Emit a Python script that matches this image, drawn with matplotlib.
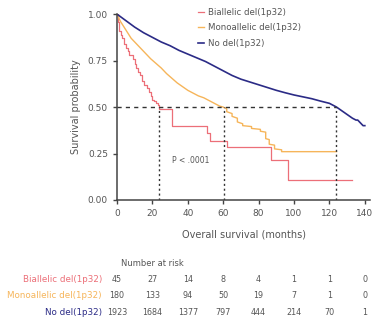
import matplotlib.pyplot as plt

# Kaplan-Meier curves
red_t = [0, 0.5, 1, 2, 3, 4, 5, 6, 7, 9, 10, 11, 12, 13, 14, 15, 17, 18, 19, 20,
         21, 22, 23, 24, 31, 51, 52.5, 62, 87, 96.5, 133]
red_s = [1.0, 0.96, 0.91, 0.89, 0.87, 0.84, 0.82, 0.80, 0.78, 0.76, 0.73, 0.71,
         0.69, 0.67, 0.64, 0.62, 0.60, 0.58, 0.56, 0.54, 0.53, 0.52, 0.51, 0.49,
         0.40, 0.36, 0.32, 0.287, 0.215, 0.11, 0.11]

# orange: many events early (smooth), visible steps later
orange_t = [0, 2, 4, 6, 8, 10, 13, 16, 19, 22, 25, 28, 31, 34, 37, 40, 43, 46,
            49, 52, 55, 58, 60, 62, 62, 65, 65, 68, 68, 71, 71, 76, 76, 81, 81,
            84, 84, 86, 86, 89, 89, 93, 93, 124]
orange_s = [1.0, 0.96, 0.93, 0.90, 0.87, 0.85, 0.82, 0.79, 0.76, 0.735, 0.71,
            0.68, 0.655, 0.63, 0.61, 0.59, 0.575, 0.56, 0.55, 0.535, 0.52, 0.505,
            0.50, 0.49, 0.475, 0.465, 0.45, 0.44, 0.42, 0.41, 0.40, 0.395, 0.385,
            0.38, 0.37, 0.365, 0.33, 0.325, 0.30, 0.295, 0.275, 0.27, 0.26, 0.26]

navy_t = [0, 5, 10, 15, 20, 25, 30, 35, 40, 45, 50, 55, 60, 65, 70, 75, 80, 85,
          90, 95, 100, 105, 110, 115, 120, 124, 127, 130, 133, 135, 136, 138, 139, 140]
navy_s = [1.0, 0.965, 0.93, 0.90, 0.875, 0.85, 0.83, 0.805, 0.785, 0.765, 0.745,
          0.72, 0.695, 0.67, 0.65, 0.635, 0.62, 0.605, 0.59, 0.577, 0.565, 0.555,
          0.545, 0.532, 0.52, 0.50, 0.48, 0.46, 0.44, 0.43, 0.43, 0.41, 0.40, 0.40]

groups = ["Biallelic del(1p32)", "Monoallelic del(1p32)", "No del(1p32)"]
colors = ["#ec6f78", "#f6b55a", "#2b2b86"]
medians = [24, 60.5, 124]

risk_times = [0, 20, 40, 60, 80, 100, 120, 140]
risk = [
    [45, 27, 14, 8, 4, 1, 1, 0],
    [180, 133, 94, 50, 19, 7, 1, 0],
    [1923, 1684, 1377, 797, 444, 214, 70, 1],
]

txt = "#555555"
fig = plt.figure(figsize=(3.75, 3.21), dpi=100)
ax = fig.add_axes([0.312, 0.377, 0.675, 0.579])

ax.step(red_t, red_s, where="post", color=colors[0], lw=0.9, label=groups[0])
ax.plot(orange_t, orange_s, color=colors[1], lw=1.0, label=groups[1])
ax.plot(navy_t, navy_s, color=colors[2], lw=1.2, label=groups[2])

# median lines
ax.plot([0, max(medians)], [0.5, 0.5], color="#333333", lw=1.0, ls=(0, (3, 3)))
for m in medians:
    ax.plot([m, m], [0, 0.5], color="#333333", lw=1.0, ls=(0, (1.5, 2)))

ax.text(31, 0.21, "P < .0001", fontsize=5.5, color=txt, va="center")

ax.set_xlim(0, 143)
ax.set_ylim(0, 1.0)
ax.set_xticks(range(0, 141, 20))
ax.set_yticks([0, 0.25, 0.5, 0.75, 1.0])
ax.set_yticklabels(["0.00", "0.25", "0.50", "0.75", "1.00"])
for s in ["top", "right"]:
    ax.spines[s].set_visible(False)
for s in ["left", "bottom"]:
    ax.spines[s].set_color("#444444")
    ax.spines[s].set_linewidth(1.1)
ax.tick_params(labelsize=6.5, colors="#444444", labelcolor=txt, length=3, width=1)
ax.set_ylabel("Survival probability", fontsize=7, color=txt, labelpad=5)
ax.set_xlabel("Overall survival (months)", fontsize=7, color=txt, labelpad=8)

leg = ax.legend(loc="upper left", bbox_to_anchor=(0.29, 1.075), frameon=False,
                fontsize=6.2, handlelength=0.7, handletextpad=0.5, labelspacing=0.75)
for t in leg.get_texts():
    t.set_color(txt)

# number at risk table
tab = fig.add_axes([0.312, 0.0, 0.675, 0.2])
tab.set_xlim(0, 143)
tab.set_ylim(0, 1)
tab.axis("off")
tab.text(2, 0.89, "Number at risk", fontsize=6, color=txt, va="center")
row_y = [0.64, 0.39, 0.14]
for i in range(3):
    tab.text(-8.5, row_y[i], groups[i], fontsize=6.3, color=colors[i],
             ha="right", va="center")
    for tt, n in zip(risk_times, risk[i]):
        tab.text(tt, row_y[i], str(n), fontsize=5.8, color=txt,
                 ha="center", va="center")

fig.savefig("out.png", dpi=100)
